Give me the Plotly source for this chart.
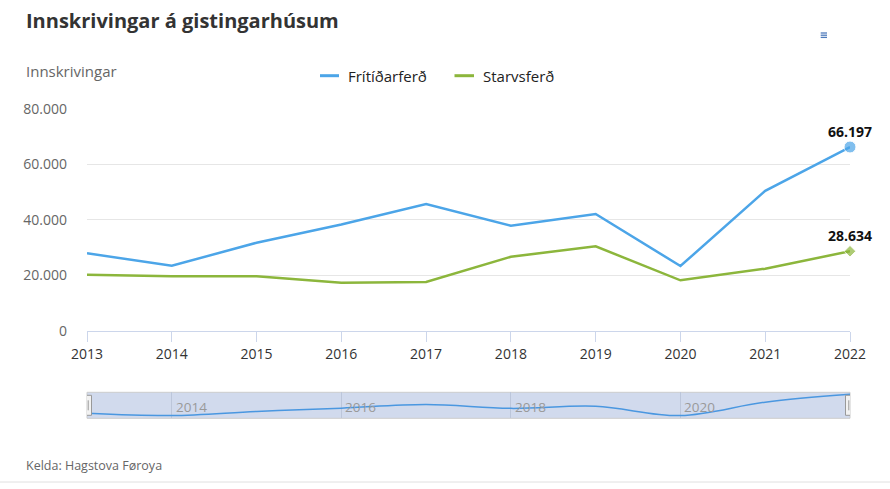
import plotly.graph_objects as go

# ---------------- data ----------------
years = [2013, 2014, 2015, 2016, 2017, 2018, 2019, 2020, 2021, 2022]
fritidarferd = [27900, 23400, 31700, 38300, 45650, 37850, 42050, 23300, 50400, 66197]
starvsferd = [20150, 19600, 19600, 17300, 17550, 26650, 30400, 18150, 22350, 28634]
series_names = ["Frítíðarferð", "Starvsferð"]
y_ticks = [0, 20000, 40000, 60000, 80000]
nav_ticks = [2014, 2016, 2018, 2020]
title_text = "Innskrivingar á gistingarhúsum"
y_title = "Innskrivingar"
source_text = "Kelda: Hagstova Føroya"

# ---------------- style ----------------
W, H = 890, 489
FONT = "Open Sans"
BLUE = "#4ca5e8"
GREEN = "#8cb63c"


def px(x):
    return x / W


def py(y):
    return 1 - y / H


fig = go.Figure()

n = len(years)
# main series
fig.add_trace(go.Scatter(
    x=years, y=fritidarferd, mode="lines+markers", name=series_names[0],
    line=dict(color=BLUE, width=2.5),
    marker=dict(size=[0] * (n - 1) + [12], color=BLUE, symbol="circle"),
    cliponaxis=False, showlegend=False, xaxis="x", yaxis="y"))
fig.add_trace(go.Scatter(
    x=years, y=starvsferd, mode="lines+markers", name=series_names[1],
    line=dict(color=GREEN, width=2.5),
    marker=dict(size=[0] * (n - 1) + [9], color=GREEN, symbol="diamond"),
    cliponaxis=False, showlegend=False, xaxis="x", yaxis="y"))

# navigator series
fig.add_trace(go.Scatter(
    x=years, y=fritidarferd, mode="lines", line=dict(color="#4a97e0", width=1.5, shape="spline"),
    showlegend=False, hoverinfo="skip", xaxis="x2", yaxis="y2", cliponaxis=False))

x_dom = [px(87), px(850)]
fig.update_layout(
    width=W, height=H, autosize=False,
    margin=dict(l=0, r=0, t=0, b=0, pad=0, autoexpand=False),
    paper_bgcolor="white", plot_bgcolor="rgba(0,0,0,0)",
    font=dict(family=FONT, color="#333333"),
    separators=",.",
    showlegend=False,
    xaxis=dict(domain=x_dom, range=[years[0], years[-1]], tickvals=years, automargin=False,
               showgrid=False, zeroline=False, showline=True, linecolor="#ccd6eb", linewidth=1,
               ticks="outside", ticklen=10, tickcolor="#ccd6eb", tickwidth=1,
               tickfont=dict(size=14, color="#333333"), fixedrange=True),
    yaxis=dict(domain=[py(330.7), py(108.7)], range=[0, 80000], tickvals=y_ticks, automargin=False,
               tickformat=",", showgrid=True, gridcolor="#e6e6e6", gridwidth=1,
               zeroline=False, showline=False, ticks="", ticklabelstandoff=19,
               tickfont=dict(size=14, color="#666666"), fixedrange=True),
    xaxis2=dict(domain=x_dom, range=[years[0], years[-1]], tickvals=nav_ticks, automargin=False,
                showgrid=True, gridcolor="#bcc6da", gridwidth=1, showticklabels=False,
                zeroline=False, showline=False, ticks="", anchor="y2", fixedrange=True),
    yaxis2=dict(domain=[py(418.3), py(392.3)], range=[17780, 70340], automargin=False,
                showgrid=False, showticklabels=False, zeroline=False, showline=False,
                anchor="x2", fixedrange=True),
)

shapes = []
# navigator mask
shapes.append(dict(type="rect", xref="x2 domain", yref="y2 domain", x0=0, x1=1, y0=0, y1=1,
                   fillcolor="rgba(102,133,194,0.3)", line=dict(color="#cccccc", width=1),
                   layer="below"))
# navigator handles
for xv in [years[0], years[-1]]:
    shapes.append(dict(type="rect", xref="x2", yref="y2 domain", xsizemode="pixel", ysizemode="pixel",
                       xanchor=xv, yanchor=0.5, x0=-4.5, x1=4.5, y0=-10, y1=10,
                       fillcolor="#f2f2f2", line=dict(color="#999999", width=1), layer="above"))
    for dx in [-1.2, 1.2]:
        shapes.append(dict(type="line", xref="x2", yref="y2 domain", xsizemode="pixel", ysizemode="pixel",
                           xanchor=xv, yanchor=0.5, x0=dx, x1=dx, y0=-5, y1=5,
                           line=dict(color="#999999", width=1), layer="above"))
# legend symbols
shapes.append(dict(type="line", xref="paper", yref="paper", x0=px(320), x1=px(339), y0=py(75.7), y1=py(75.7),
                   line=dict(color=BLUE, width=3)))
shapes.append(dict(type="line", xref="paper", yref="paper", x0=px(454.5), x1=px(474), y0=py(75.7), y1=py(75.7),
                   line=dict(color=GREEN, width=3)))
# menu icon
for yy in [33, 35.2, 37.4]:
    shapes.append(dict(type="line", xref="paper", yref="paper", x0=px(820.7), x1=px(827), y0=py(yy), y1=py(yy),
                       line=dict(color="#4f7bbb", width=1.3)))
# bottom border line
shapes.append(dict(type="line", xref="paper", yref="paper", x0=0, x1=1, y0=py(482), y1=py(482),
                   line=dict(color="#e0e0e0", width=1)))
fig.update_layout(shapes=shapes)

ann = []
ann.append(dict(text="<b>" + title_text + "</b>", x=px(24), y=py(21), xref="paper", yref="paper",
                xanchor="left", yanchor="middle", showarrow=False,
                font=dict(size=20, color="#333333", family=FONT)))
ann.append(dict(text=y_title, x=px(24), y=py(71), xref="paper", yref="paper",
                xanchor="left", yanchor="middle", showarrow=False,
                font=dict(size=15, color="#666666", family=FONT)))
ann.append(dict(text=series_names[0], x=px(346), y=py(75.5), xref="paper", yref="paper",
                xanchor="left", yanchor="middle", showarrow=False,
                font=dict(size=15, color="#222222", family=FONT)))
ann.append(dict(text=series_names[1], x=px(480.5), y=py(75.5), xref="paper", yref="paper",
                xanchor="left", yanchor="middle", showarrow=False,
                font=dict(size=15, color="#222222", family=FONT)))
ann.append(dict(text=source_text, x=px(24), y=py(465), xref="paper", yref="paper",
                xanchor="left", yanchor="middle", showarrow=False,
                font=dict(size=12.5, color="#666666", family=FONT)))
# data labels on last points
for vals in [fritidarferd, starvsferd]:
    ann.append(dict(text="<b>" + f"{vals[-1]:,}".replace(",", ".") + "</b>", x=years[-1], y=vals[-1],
                    xref="x", yref="y", xanchor="center", yanchor="middle", yshift=16,
                    showarrow=False, font=dict(size=14, color="#111111", family=FONT)))
# navigator labels
for t in nav_ticks:
    ann.append(dict(text=str(t), x=t, y=0.43, xref="x2", yref="y2 domain", xanchor="left",
                    yanchor="middle", xshift=2, showarrow=False,
                    font=dict(size=13.5, color="#999999", family=FONT)))
fig.update_layout(annotations=ann)

fig.write_html("out.html", config={"displayModeBar": False},
               post_script="document.body.style.margin='0';document.body.style.padding='0';"
                           "document.body.style.overflow='hidden';")
